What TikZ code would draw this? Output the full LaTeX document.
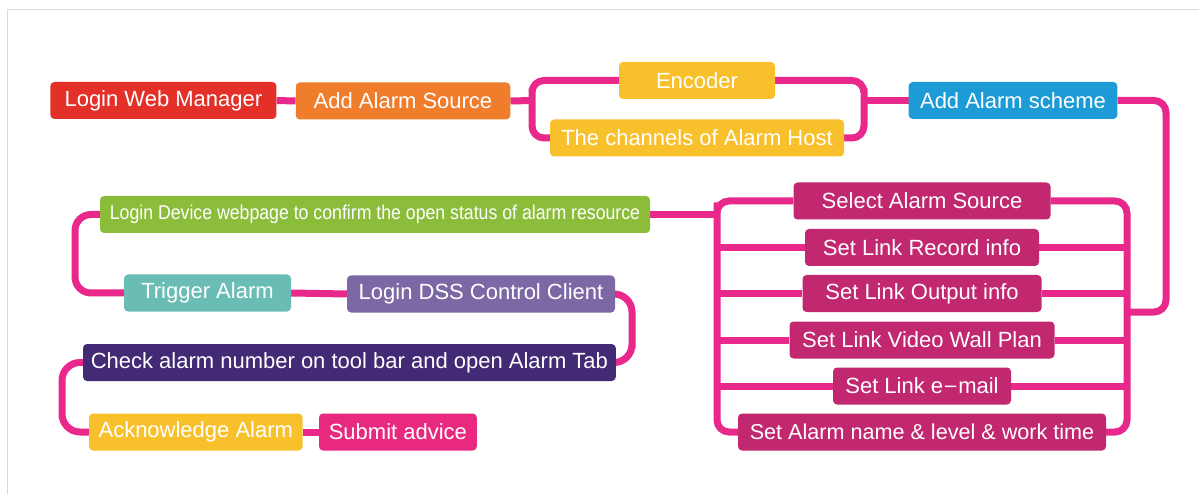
\documentclass[tikz,border=0pt]{standalone}
\usepackage{fontspec}
\setmainfont{Liberation Sans}
\newfontfamily\narrowfont[FakeStretch=0.885]{Liberation Sans}
\usetikzlibrary{backgrounds}
\definecolor{cred}{HTML}{E33129}
\definecolor{corange}{HTML}{EF7D2C}
\definecolor{cyellow}{HTML}{F8C12C}
\definecolor{cblue}{HTML}{1C9BD7}
\definecolor{cgreen}{HTML}{8BBD3B}
\definecolor{cteal}{HTML}{6ABDB4}
\definecolor{cpurple}{HTML}{7C68A5}
\definecolor{cdark}{HTML}{432A74}
\definecolor{cmag}{HTML}{C1286F}
\definecolor{csub}{HTML}{E9297F}
\definecolor{cline}{HTML}{E8288A}
\tikzset{
  box/.style={rounded corners=4pt, inner sep=0pt, minimum height=37pt, text=white,
    font=\fontsize{22}{24}\selectfont, anchor=center},
  conn/.style={draw=cline, line width=7pt, rounded corners=12pt},
}
\begin{document}
\begin{tikzpicture}[x=1pt,y=-1pt]
\useasboundingbox (0,0) rectangle (1199,494);
\draw[black!15, line width=1pt] (7,494) -- (7,10) -- (1199,10);
% top row
\node[box, fill=cred, minimum width=226pt] (lwm) at (163.4,100.5) {Login Web Manager};
\node[box, fill=corange, minimum width=214.5pt] (aas) at (403,101) {Add Alarm Source};
\node[box, fill=cyellow, minimum width=156pt] (enc) at (697,80.5) {Encoder};
\node[box, fill=cyellow, minimum width=294pt] (ch) at (697,138) {The channels of Alarm Host};
\node[box, fill=cblue, minimum width=208.6pt] (sch) at (1013,100.5) {Add Alarm scheme};
% scheme rows
\node[box, fill=cmag, minimum width=257pt] (sel) at (922,201) {Select Alarm Source};
\node[box, fill=cmag, minimum width=234pt] (rec) at (922,247.5) {Set Link Record info};
\node[box, fill=cmag, minimum width=239pt] (out) at (922,293.5) {Set Link Output info};
\node[box, fill=cmag, minimum width=265pt] (vid) at (922,340) {Set Link Video Wall Plan};
\node[box, fill=cmag, minimum width=178pt] (mail) at (922,386) {Set Link e{\fontspec{DejaVu Sans}\fontsize{18}{20}\selectfont\raisebox{1pt}{−}}mail};
\node[box, fill=cmag, minimum width=368pt, font=\fontsize{21.6}{24}\selectfont] (name) at (922,432) {Set Alarm name \& level \& work time};
% left part
\node[box, fill=cgreen, minimum width=550pt, font=\narrowfont\fontsize{20}{24}\selectfont] (ld) at (375,214.5) {Login Device webpage to confirm the open status of alarm resource};
\node[box, fill=cteal, minimum width=167pt] (trig) at (207.5,293) {Trigger Alarm};
\node[box, fill=cpurple, minimum width=268pt] (dss) at (481,294) {Login DSS Control Client};
\node[box, fill=cdark, minimum width=532.7pt] (chk) at (349.4,362.5) {Check alarm number on tool bar and open Alarm Tab};
\node[box, fill=cyellow, minimum width=213.6pt] (ack) at (195.8,432) {Acknowledge Alarm};
\node[box, fill=csub, minimum width=157.8pt] (sub) at (397.9,432) {Submit advice};
% helper coordinates
\coordinate (bl) at (532,100.5);
\coordinate (br) at (864,100.5);
\coordinate (rc) at (1166,312);
\coordinate (xR) at (1127,312);
\coordinate (xL) at (717,214.5);
\coordinate (xl2) at (75,250);
\coordinate (xd) at (632,330);
\coordinate (xa) at (62,400);
\begin{pgfonlayer}{background}
\draw[conn] (lwm.east) -- (aas.west);
\draw[conn] (aas.east) -- (bl);
\draw[conn] (enc.west) -| (bl) |- (ch.west);
\draw[conn] (enc.east) -| (br) |- (ch.east);
\draw[conn] (br) -- (sch.west);
\draw[conn] (sch.east) -| (rc) -- (xR);
\draw[conn] (sel.east) -| (xR) |- (name.east);
\draw[conn] (sel.west) -| (xL) |- (name.west);
\foreach \n in {rec,out,vid,mail} {
  \draw[conn] (\n.east) -- (\n.east -| xR);
  \draw[conn] (\n.west) -- (\n.west -| xL);
}
\draw[conn] (ld.east) -- (xL);
\draw[conn, rounded corners=16pt] (ld.west) -| (xl2) |- (trig.west);
\draw[conn] (trig.east) -- (dss.west);
\draw[conn, rounded corners=18pt] (dss.east) -| (xd) |- (chk.east);
\draw[conn, rounded corners=18pt] (chk.west) -| (xa) |- (ack.west);
\draw[conn] (ack.east) -- (sub.west);
\end{pgfonlayer}
\end{tikzpicture}
\end{document}
